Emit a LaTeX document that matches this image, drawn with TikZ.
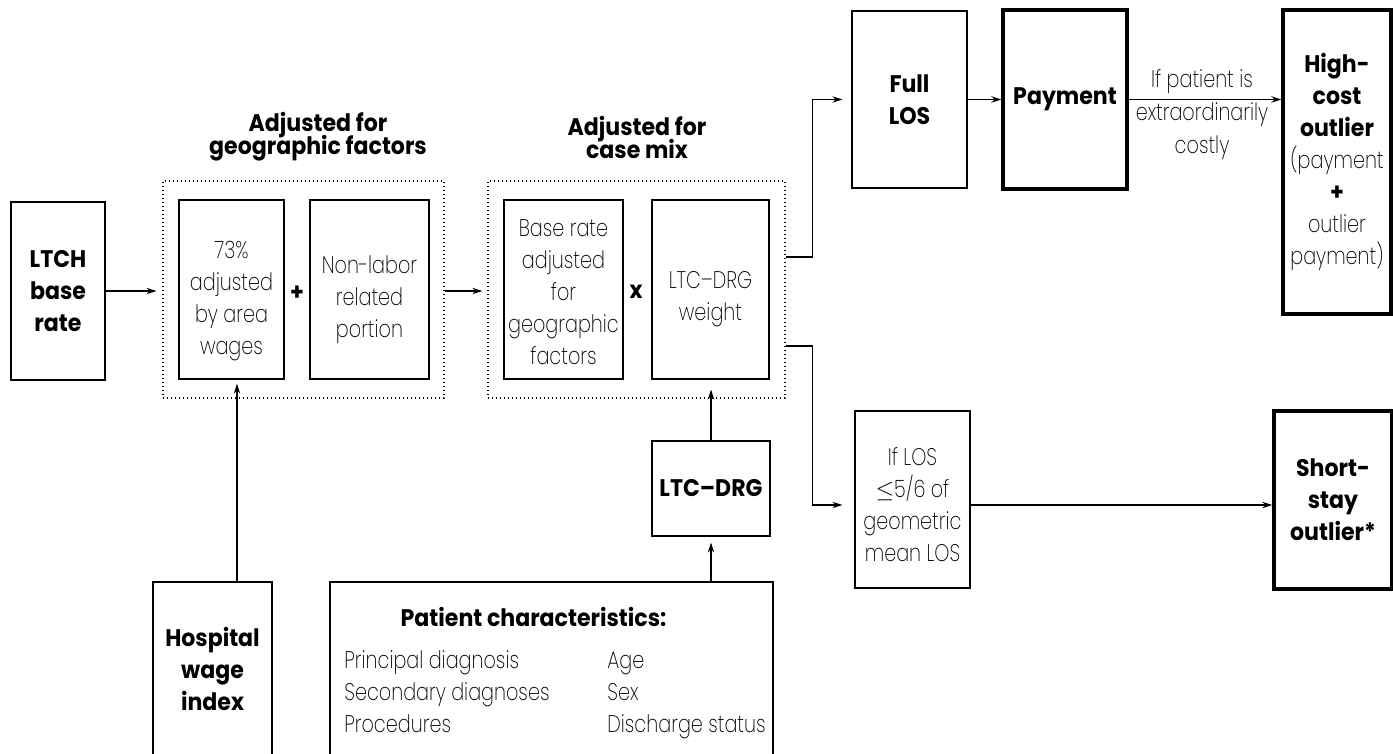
\documentclass[tikz,border=0pt]{standalone}
\usepackage{fontspec}
\setmainfont{Poppins ExtraLight}[FakeStretch=0.8]
\newfontfamily\heavyfam{Poppins Bold}[FakeStretch=0.92]
\usetikzlibrary{arrows.meta}
\newcommand\lt{\fontsize{12}{16}\selectfont}
\newcommand\hv{\heavyfam\fontsize{12}{16}\selectfont}
\newcommand\ttlfont{\heavyfam\fontsize{12}{11.5}\selectfont\lineskiplimit=-6pt\relax}
\tikzset{
  box/.style={draw, line width=0.6pt, inner sep=0pt, align=center, font=\lt},
  hbox/.style={box, font=\hv},
  thick box/.style={line width=1.7pt},
  grp/.style={draw, line width=0.6pt, dash pattern=on 0.6pt off 1.4pt, inner sep=0pt},
  ttl/.style={align=center, font=\ttlfont, inner sep=0pt},
  arr/.style={line width=0.6pt, -{Stealth[length=5pt,width=3.2pt]}},
}
\begin{document}
\begin{tikzpicture}[x=0.5pt, y=-0.5pt]
\path[use as bounding box, fill=white] (0,0) rectangle (1393,754);

% left input
\node[hbox, minimum width=47pt, minimum height=89pt] (base) at (58,291) {LTCH\\base\\rate};

% geographic adjustment group
\node[grp, minimum width=140.5pt, minimum height=108.5pt] (geo) at (303.5,289.5) {};
\node[box, minimum width=52.5pt, minimum height=89.5pt, text height=68pt] (wages) at (231.5,289.5) {73\%\\adjusted\\by area\\wages};
\node[box, minimum width=59.5pt, minimum height=89.5pt, text height=51pt] (nonlabor) at (369.5,289.5) {Non-labor\\related\\portion};
\node[font=\hv, inner sep=0pt] (plus) at (297,293) {+};
\node[ttl] (geotitle) at (318,137) {Adjusted for\\geographic factors};

% case-mix adjustment group
\node[grp, minimum width=148.5pt, minimum height=108.5pt] (mix) at (636.5,289.5) {};
\node[box, minimum width=59.5pt, minimum height=89.5pt, text height=75.5pt] (baseadj) at (563.5,289.5) {Base rate\\adjusted\\for\\geographic\\factors};
\node[box, minimum width=58.5pt, minimum height=89.5pt, text height=34.5pt] (weight) at (710.5,289.5) {LTC–DRG\\weight};
\node[font=\hv, inner sep=0pt] (times) at (636,292) {x};
\node[ttl] (mixtitle) at (637,137) {Adjusted for\\case mix};

% upper branch
\node[hbox, minimum width=57.5pt, minimum height=88.5pt] (full) at (909.5,99.5) {Full\\LOS};
\node[hbox, thick box, minimum width=62pt, minimum height=89.5pt] (pay) at (1065,99.5) {Payment};
\node[box, thick box, minimum width=54pt, minimum height=152pt] (high) at (1337,162)
  {{\hv High-}\\{\hv cost}\\{\hv outlier}\\(payment\\{\hv +}\\outlier\\payment)};
\node[align=center, font=\fontsize{12}{16.5}\selectfont, inner sep=0pt] (cond) at (1202,115)
  {If patient is\\extraordinarily\\costly};

% lower branch
\node[box, minimum width=57.5pt, minimum height=88.5pt, text height=62pt] (iflos) at (912.5,499.5)
  {If LOS\\$\le$5/6 of\\geometric\\mean LOS};
\node[hbox, thick box, minimum width=59pt, minimum height=89pt] (short) at (1333,500) {Short-\\stay\\outlier*};

% inputs at the bottom
\node[hbox, minimum width=59pt, minimum height=47.5pt] (ltcdrg) at (711,488.5) {LTC–DRG};
\node[hbox, minimum width=59.5pt, minimum height=86.5pt] (hosp) at (212.5,668.5) {Hospital\\wage\\index};
\node[box, minimum width=221.5pt, minimum height=86.5pt] (patient) at (551.5,668.5) {};
\node[font=\hv, inner sep=0pt] (ptitle) at (533.5,617) {Patient characteristics:};
\node[anchor=west, align=left, font=\lt, inner sep=0pt] (pleft) at (344,692)
  {Principal diagnosis\\Secondary diagnoses\\Procedures};
\node[anchor=west, align=left, font=\lt, inner sep=0pt] (pright) at (607,695)
  {Age\\Sex\\Discharge status};

% connectors
\draw[arr, shorten >=3pt] (base.east |- 0,291) -- (geo.west |- 0,291);
\draw[arr, shorten >=2.5pt] (geo.east |- 0,291) -- (mix.west |- 0,291);
\draw[arr, shorten >=4.5pt] ([yshift=16.25pt]mix.east) -- ++(13.5pt,0) |- (full.west);
\draw[arr, shorten >=6pt] ([yshift=-28.25pt]mix.east) -- ++(13.5pt,0) |- ([yshift=-2.75pt]iflos.west);
\draw[arr] (full.east) -- (pay.west);
\draw[arr] (pay.east) -- (high.west |- pay.east);
\draw[arr] ([yshift=-2.75pt]iflos.east) -- ([yshift=-2.75pt]iflos.east -| short.west);
\draw[arr, shorten >=2pt] ([xshift=12.25pt]hosp.north) -- ([xshift=12.25pt]hosp.north |- wages.south);
\draw[arr, shorten >=5pt] (ltcdrg.north) -- (ltcdrg.north |- weight.south);
\draw[arr, shorten >=3pt] (patient.north -| ltcdrg.south) -- (ltcdrg.south);
\end{tikzpicture}
\end{document}
